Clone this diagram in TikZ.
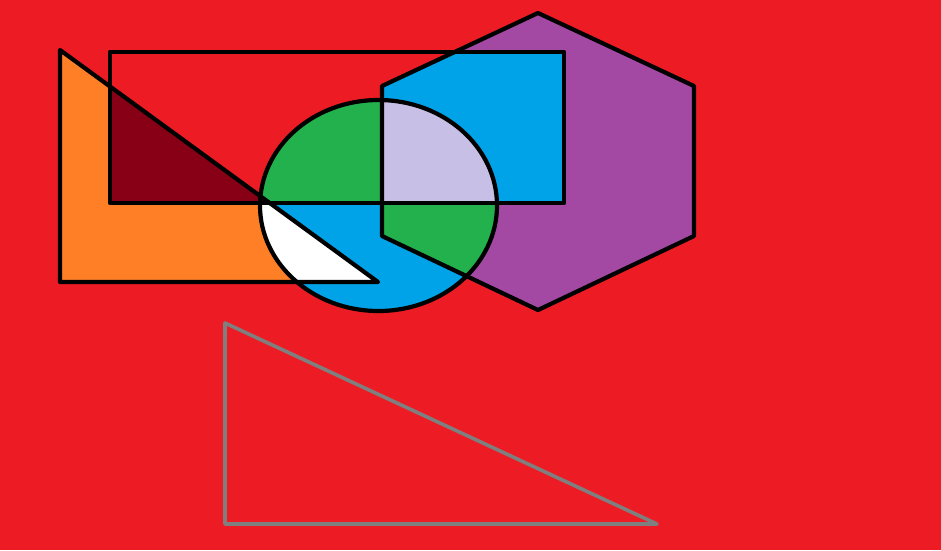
\documentclass[tikz,border=0pt]{standalone}
\usepackage{tikz}
\definecolor{bgred}{HTML}{ED1C24}
\definecolor{paintorange}{HTML}{FF7F27}
\definecolor{darkred}{HTML}{880015}
\definecolor{paintgreen}{HTML}{22B14C}
\definecolor{paintblue}{HTML}{00A2E8}
\definecolor{paintpurple}{HTML}{A349A4}
\definecolor{lavender}{HTML}{C8BFE7}
\definecolor{paintgray}{HTML}{7F7F7F}
\tikzset{
  outline/.style={draw=black, line width=4.2pt, line join=round},
  grayline/.style={draw=paintgray, line width=3.6pt, line join=round},
}
% shape outlines, in pixel units
\newcommand\tripath{(60,50) -- (60,282) -- (378,282) -- cycle}
\newcommand\rectpath{(110,52) rectangle (564,203)}
\newcommand\circpath{(378.5,205.5) ellipse [x radius=118.5pt, y radius=105.5pt]}
\newcommand\hexpath{(538,13) -- (694,86) -- (694,236) -- (538,310) -- (382,236) -- (382,86) -- cycle}

\begin{document}
\begin{tikzpicture}[x=1pt,y=-1pt]
  \useasboundingbox (0,0) rectangle (941,550);
  \fill[bgred] (0,0) rectangle (941,550);
  % base fills
  \fill[paintpurple] \hexpath;
  \fill[paintblue] \circpath;
  \fill[paintorange] \tripath;
  % overlaps
  \begin{scope}
    \clip \hexpath;
    \fill[paintblue] \rectpath;
    \fill[paintgreen] \circpath;
  \end{scope}
  \begin{scope}
    \clip \circpath;
    \fill[paintgreen] \rectpath;
    \fill[white] \tripath;
    \clip \rectpath;
    \fill[lavender] \hexpath;
  \end{scope}
  \begin{scope}
    \clip \tripath;
    \fill[darkred] \rectpath;
  \end{scope}
  % outlines
  \draw[outline] \tripath;
  \draw[outline] \rectpath;
  \draw[outline] \circpath;
  \draw[outline] \hexpath;
  \draw[grayline] (225,323) -- (225,524) -- (657,524) -- cycle;
\end{tikzpicture}
\end{document}
